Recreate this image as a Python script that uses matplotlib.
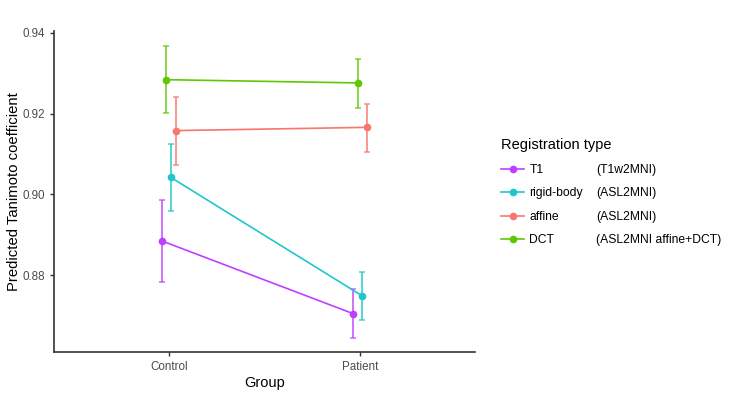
import numpy as np
import matplotlib
matplotlib.use("Agg")
import matplotlib.pyplot as plt
from matplotlib.lines import Line2D

plt.rcParams['font.family'] = ['Liberation Sans', 'DejaVu Sans']

groups = ["Control", "Patient"]
reg_types = ["T1", "rigid-body", "affine", "DCT"]
reg_desc = ["(T1w2MNI)", "(ASL2MNI)", "(ASL2MNI)", "(ASL2MNI affine+DCT)"]
colors = ["#C03FFF", "#1FC6CC", "#F8766D", "#5FC800"]

# predicted values and CI per type, per group (Control, Patient)
pred = {
    "T1":         [0.8885, 0.8705],
    "rigid-body": [0.9042, 0.8749],
    "affine":     [0.9158, 0.9166],
    "DCT":        [0.9284, 0.9276],
}
ci_low = {
    "T1":         [0.8783, 0.8644],
    "rigid-body": [0.8959, 0.8690],
    "affine":     [0.9074, 0.9106],
    "DCT":        [0.9201, 0.9215],
}
ci_high = {
    "T1":         [0.8985, 0.8765],
    "rigid-body": [0.9125, 0.8808],
    "affine":     [0.9240, 0.9224],
    "DCT":        [0.9367, 0.9334],
}
dodge = {"T1": -0.037, "rigid-body": 0.011, "affine": 0.038, "DCT": -0.013}

fig = plt.figure(figsize=(7.33, 3.95), dpi=100)
ax = fig.add_axes([0.0737, 0.108, 0.574, 0.814])

x = np.arange(1, len(groups) + 1)
for name, col in zip(reg_types, colors):
    xs = x + dodge[name]
    y = np.array(pred[name])
    lo = y - np.array(ci_low[name])
    hi = np.array(ci_high[name]) - y
    ax.errorbar(xs, y, yerr=[lo, hi], fmt="none", ecolor=col, elinewidth=1.3,
                capsize=2.5, capthick=1.1, alpha=0.8, zorder=2)
    ax.plot(xs, y, color=col, lw=1.2, marker="o", ms=4.5, zorder=3)

ax.set_xlim(0.4, 2.6)
ax.set_ylim(0.8609, 0.9405)
ax.set_xticks(x)
ax.set_xticklabels(groups)
ax.set_yticks([0.88, 0.90, 0.92, 0.94])
ax.set_yticklabels(["0.88", "0.90", "0.92", "0.94"])
for s in ["top", "right"]:
    ax.spines[s].set_visible(False)
for s in ["left", "bottom"]:
    ax.spines[s].set_linewidth(1.2)
    ax.spines[s].set_color("#333333")
ax.tick_params(labelsize=8.4, labelcolor="#4d4d4d", color="#333333", length=3, width=1)
ax.set_xlabel("Group", fontsize=10.5, labelpad=2)
ax.set_ylabel("Predicted Tanimoto coefficient", fontsize=10.7, labelpad=1)

# legend
handles = [Line2D([], [], color=c, lw=1.2, marker="o", ms=4.5) for c in colors]
leg = fig.legend(handles, reg_types, title="Registration type", loc="upper left",
                 bbox_to_anchor=(0.677, 0.662), frameon=False, fontsize=8.7,
                 title_fontsize=10.5, handlelength=1.9, labelspacing=0.95,
                 handletextpad=0.45, borderaxespad=0)
leg._legend_box.align = "left"
fig.canvas.draw()
for txt, desc in zip(leg.get_texts(), reg_desc):
    bb = txt.get_window_extent()
    yc = (bb.y0 + bb.y1) / 2 / fig.bbox.height
    fig.text(0.813, yc, desc, fontsize=8.7, va="center", ha="left")

fig.savefig("out.png", dpi=100)
